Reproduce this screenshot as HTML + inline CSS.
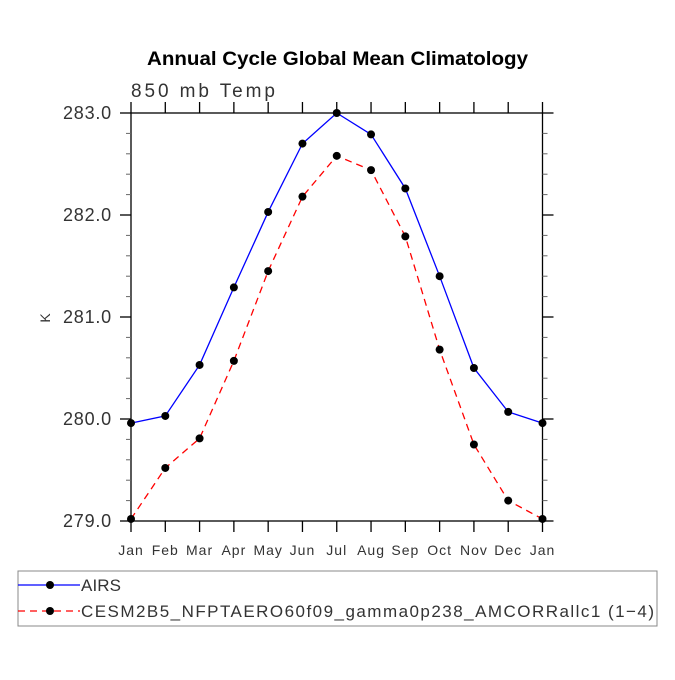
<!DOCTYPE html>
<html><head><meta charset="utf-8"><style>
body{margin:0;background:#fff;}
svg text{font-family:"Liberation Sans",sans-serif;}
</style></head><body>
<svg id="chart" width="675" height="675" viewBox="0 0 675 675" xmlns="http://www.w3.org/2000/svg">
<text x="147" y="65" textLength="381" lengthAdjust="spacingAndGlyphs" font-size="19" font-weight="bold" fill="#000">Annual Cycle Global Mean Climatology</text>
<text x="131" y="97" font-size="19" fill="#333" textLength="144" lengthAdjust="spacing">850 mb Temp</text>
<text x="0" y="0" font-size="14" fill="#333" text-anchor="middle" transform="translate(50,318) rotate(-90)">K</text>
<g id="axes"></g>
<g id="series"></g>
<rect x="18" y="571" width="639" height="55" fill="none" stroke="#888" stroke-width="1"/>
<g>
<line x1="18" y1="585" x2="80" y2="585" stroke="#0000ff" stroke-width="1.3"/>
<circle cx="50" cy="585" r="4" fill="#000"/>
<text x="81" y="591" font-size="17" fill="#333" textLength="40" lengthAdjust="spacing">AIRS</text>
</g>
<g>
<line x1="18" y1="611" x2="80" y2="611" stroke="#ff0000" stroke-width="1.3" stroke-dasharray="7,5"/>
<circle cx="50" cy="611" r="4" fill="#000"/>
<text x="81" y="617" font-size="17" fill="#333" textLength="573" lengthAdjust="spacing">CESM2B5_NFPTAERO60f09_gamma0p238_AMCORRallc1 (1−4)</text>
</g>
</svg>
<script>
const months = ["Jan","Feb","Mar","Apr","May","Jun","Jul","Aug","Sep","Oct","Nov","Dec","Jan"];
const airs = [279.96,280.03,280.53,281.29,282.03,282.70,283.00,282.79,282.26,281.40,280.50,280.07,279.96];
const cesm = [279.02,279.52,279.81,280.57,281.45,282.18,282.58,282.44,281.79,280.68,279.75,279.20,279.02];
const yTicks = [279.0,280.0,281.0,282.0,283.0];
const NS="http://www.w3.org/2000/svg";
const L=131,R=542.5,T=113,B=521,ymin=279,ymax=283;
function xs(i){return L+i*(R-L)/(months.length-1);}
function ys(v){return B-(v-ymin)/(ymax-ymin)*(B-T);}
function mk(tag,attrs,parent){const e=document.createElementNS(NS,tag);for(const k in attrs)e.setAttribute(k,attrs[k]);parent.appendChild(e);return e;}
const ax=document.getElementById('axes');
const frame=mk('rect',{x:L,y:T,width:R-L,height:B-T,fill:'none',stroke:'#000','stroke-width':1.3},ax);


months.forEach((m,i)=>{
  const x=xs(i);
  const t1=mk('line',{x1:x,y1:B,x2:x,y2:B+11,stroke:'#000','stroke-width':1.3},ax);
  
  
  const t2=mk('line',{x1:x,y1:T,x2:x,y2:T-11,stroke:'#000','stroke-width':1.3},ax);
  
  
  const lb=mk('text',{x:x,y:B+34,'text-anchor':'middle','font-size':14,fill:'#333','letter-spacing':1},ax);
  lb.textContent=m;
  
  
});
for(let v=ymin;v<=ymax+1e-6;v+=0.2){
  const y=ys(v);const major=Math.abs(v-Math.round(v))<1e-6;
  const len=major?11:5;
  const a=mk('line',{x1:L-len,y1:y,x2:L,y2:y,stroke:major?'#000':'#666','stroke-width':major?1.3:1},ax);
  
  
  const b=mk('line',{x1:R,y1:y,x2:R+len,y2:y,stroke:major?'#000':'#666','stroke-width':major?1.3:1},ax);
  
  
}
yTicks.forEach(v=>{
  const lb=mk('text',{x:112,y:ys(v)+6,'text-anchor':'end','font-size':18,fill:'#333','letter-spacing':0.8},ax);
  lb.textContent=v.toFixed(1);
  
  
});
const sg=document.getElementById('series');
function series(data,color,dash,name){
  const pts=data.map((v,i)=>xs(i)+','+ys(v)).join(' ');
  const pl=mk('polyline',{points:pts,fill:'none',stroke:color,'stroke-width':1.3,'stroke-dasharray':dash},sg);
  
  
  data.forEach((v,i)=>{
    const c=mk('circle',{cx:xs(i),cy:ys(v),r:4,fill:'#000'},sg);
    
    
  });
}
series(airs,'#0000ff','none','airs');
series(cesm,'#ff0000','7,5','cesm');
</script>
</body></html>
